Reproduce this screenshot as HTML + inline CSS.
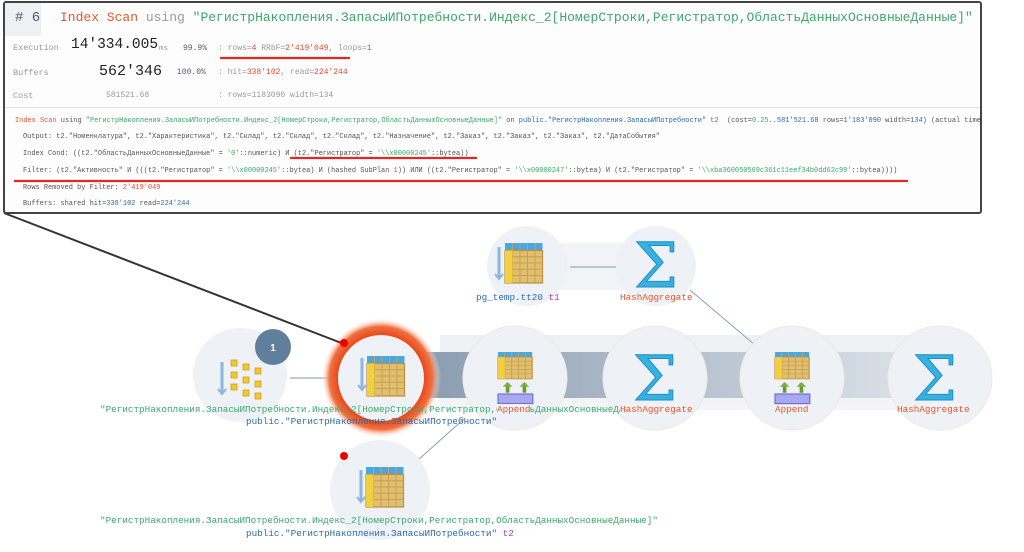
<!DOCTYPE html>
<html><head><meta charset="utf-8"><style>
body{margin:0;width:1024px;height:552px;background:#fff;position:relative;overflow:hidden;font-family:"Liberation Mono","DejaVu Sans Mono",monospace}
.a{position:absolute;white-space:nowrap}
#panel{position:absolute;left:3px;top:1px;width:975px;height:209px;border:2px solid #444;border-radius:3px;background:#fdfdfd;overflow:hidden}
.g{color:#3aa86a}.o{color:#e8552a}.gr{color:#999}.b{color:#2b6aa8}.p{color:#b03ab0}.r{color:#e84a2a}
.code{font-size:6.95px;color:#555}
.lbl{font-size:9.3px}
</style></head><body>
<svg width="1024" height="552" style="position:absolute;left:0;top:0">
<defs>
<linearGradient id="band" x1="0" y1="0" x2="0" y2="1"><stop offset="0" stop-color="#eef1f4"/><stop offset="1" stop-color="#f3f5f7"/></linearGradient>
<linearGradient id="inner" x1="0" y1="0" x2="1" y2="0"><stop offset="0" stop-color="#8a9cb0"/><stop offset="1" stop-color="#dfe5eb"/></linearGradient>
<radialGradient id="glow"><stop offset="0.72" stop-color="#e84a1a"/><stop offset="0.86" stop-color="#f07040"/><stop offset="1" stop-color="#fff" stop-opacity="0"/></radialGradient>
<g id="tbl">
<rect x="0" y="0" width="30" height="6" fill="#4aa8e0"/>
<rect x="0" y="6" width="30" height="26" fill="#e0c070" stroke="#c09040"/>
<path d="M6 0v32M12 0v32M18 0v32M24 0v32M0 11h30M0 16h30M0 21h30M0 26h30" stroke="#c8a050" stroke-width="0.8"/>
<rect x="0" y="6" width="6" height="26" fill="#f0d040"/>
</g>
<g id="arr"><path d="M0 0v30" stroke="#8ab8e0" stroke-width="3"/><path d="M-4 27l4 5l4-5" fill="none" stroke="#8ab8e0" stroke-width="2"/></g>
<g id="app"><use href="#tbl" transform="scale(0.95,0.7)"/><path d="M8 26v8M22 26v8" stroke="#6a9a30" stroke-width="3"/><path d="M4 29l4-4l4 4M18 29l4-4l4 4" fill="#7ab040"/><rect x="0" y="35" width="29" height="8" fill="#a8a8f0" stroke="#7070d0"/></g>
</defs>
<rect x="440" y="335" width="500" height="75" fill="url(#band)"/>
<rect x="420" y="352" width="520" height="46" fill="url(#inner)"/>
<rect x="530" y="243" width="126" height="47" fill="#f1f3f6"/>
<line x1="290" y1="378" x2="340" y2="378" stroke="#a8b8c8" stroke-width="1.5"/>
<line x1="570" y1="267" x2="620" y2="267" stroke="#a8b8c8" stroke-width="1.5"/>
<line x1="690" y1="290" x2="755" y2="345" stroke="#8aa0b8" stroke-width="1"/>
<line x1="418" y1="460" x2="465" y2="418" stroke="#8aa0b8" stroke-width="1"/>
<circle cx="240" cy="375" r="47" fill="#eef1f5"/>
<circle cx="381" cy="378" r="60" fill="url(#glow)"/>
<circle cx="381" cy="378" r="43" fill="#eef1f5"/>
<circle cx="515" cy="378" r="52" fill="#eef1f5" stroke="#f3e8e4"/>
<circle cx="655" cy="378" r="52" fill="#eef1f5" stroke="#f3e8e4"/>
<circle cx="792" cy="378" r="52" fill="#eef1f5" stroke="#f3e8e4"/>
<circle cx="940" cy="378" r="52" fill="#eef1f5" stroke="#f3e8e4"/>
<circle cx="527" cy="266" r="40" fill="#eef1f5"/>
<circle cx="656" cy="266" r="40" fill="#eef1f5"/>
<circle cx="380" cy="490" r="50" fill="#eef1f5"/>
<circle cx="273" cy="347" r="18" fill="#5f7f9c"/>
<text x="273" y="351" font-family="Liberation Sans" font-size="10" font-weight="bold" fill="#fff" text-anchor="middle">1</text>
<use href="#arr" x="222" y="362"/>
<g fill="#f0c830" stroke="#d0a020" stroke-width="0.8"><rect x="231" y="360" width="6" height="6"/><rect x="243" y="364" width="6" height="6"/><rect x="255" y="368" width="6" height="6"/><rect x="231" y="372" width="6" height="6"/><rect x="243" y="377" width="6" height="6"/><rect x="255" y="381" width="6" height="6"/><rect x="231" y="384" width="6" height="6"/><rect x="243" y="390" width="6" height="6"/><rect x="255" y="393" width="6" height="6"/></g>
<use href="#arr" x="362" y="358"/><use href="#tbl" transform="translate(367,356) scale(1.25)"/>
<use href="#arr" x="361" y="470"/><use href="#tbl" transform="translate(366,467) scale(1.25)"/>
<use href="#arr" x="499" y="247"/><use href="#tbl" transform="translate(505,243) scale(1.25)"/>
<use href="#app" transform="translate(498,352) scale(1.2)"/><use href="#app" transform="translate(775,352) scale(1.2)"/>
<g font-family="DejaVu Serif" font-size="62" fill="#3ab0e0" stroke="#1a90c8" stroke-width="1" text-anchor="middle"><text x="656" y="287">Σ</text><text x="655" y="400">Σ</text><text x="935" y="400">Σ</text></g>
<line x1="4" y1="213" x2="344" y2="344" stroke="#333" stroke-width="2"/>
<circle cx="344" cy="343" r="4" fill="#e00"/>
<circle cx="344" cy="456" r="4" fill="#e00"/>
</svg>
<div id="panel">
<div class="a" style="left:0;top:0;width:36px;height:33px;background:#eef0f2"></div>
<div class="a" style="left:10px;top:7px;font-size:14px;color:#557">#&nbsp;6</div>
<div class="a" style="left:55px;top:7px;font-size:13px"><span class="o">Index Scan</span> <span class="gr">using</span> <span class="g">"РегистрНакопления.ЗапасыИПотребности.Индекс_2[НомерСтроки,Регистратор,ОбластьДанныхОсновныеДанные]"</span></div>
<div class="a" style="left:8px;top:40px;font-size:8.5px;color:#999">Execution</div>
<div class="a" style="left:66px;top:34px;font-size:14.5px;color:#222">14′334.005</div>
<div class="a" style="left:154px;top:42px;font-size:7.5px;color:#999">ms</div>
<div class="a" style="left:178px;top:41px;font-size:8px;color:#557">99.9%</div>
<div class="a" style="left:213px;top:41px;font-size:8px;color:#999">: rows=<span class="r">4</span> RRbF=<span class="r">2′419′049</span>, loops=<span class="r">1</span></div>
<div class="a" style="left:8px;top:65px;font-size:8.5px;color:#999">Buffers</div>
<div class="a" style="left:94px;top:60px;font-size:15px;color:#222">562′346</div>
<div class="a" style="left:172px;top:65px;font-size:8px;color:#557">100.0%</div>
<div class="a" style="left:213px;top:65px;font-size:8px;color:#999">: hit=<span class="r">338′102</span>, read=<span class="r">224′244</span></div>
<div class="a" style="left:8px;top:88px;font-size:8.5px;color:#999">Cost</div>
<div class="a" style="left:101px;top:88px;font-size:8px;color:#999">581521.68</div>
<div class="a" style="left:213px;top:88px;font-size:8px;color:#999">: rows=1183090 width=134</div>
<div class="a" style="left:0;top:104px;width:975px;height:1px;background:#e4e6e8"></div>
<div class="a code" style="left:10px;top:114px"><span class="o">Index Scan</span> using <span class="g">"РегистрНакопления.ЗапасыИПотребности.Индекс_2[НомерСтроки,Регистратор,ОбластьДанныхОсновныеДанные]"</span> on <span class="b">public."РегистрНакопления.ЗапасыИПотребности"</span> <span class="p">t2</span>&nbsp; (cost=<span class="g">0.25</span>..<span class="b">581′521.68</span> rows=<span class="b">1′183′090</span> width=<span class="b">134</span>) (actual time</div>
<div class="a code" style="left:18px;top:130px">Output: t2."Номенклатура", t2."Характеристика", t2."Склад", t2."Склад", t2."Склад", t2."Назначение", t2."Заказ", t2."Заказ", t2."Заказ", t2."ДатаСобытия"</div>
<div class="a code" style="left:18px;top:147px">Index Cond: ((t2."ОбластьДанныхОсновныеДанные" = <span class="g">'0'</span>::numeric) И (t2."Регистратор" = <span class="g">'\\x00000245'</span>::bytea))</div>
<div class="a code" style="left:18px;top:164px">Filter: (t2."Активность" И (((t2."Регистратор" = <span class="g">'\\x00000245'</span>::bytea) И (hashed SubPlan <span class="r">1</span>)) ИЛИ ((t2."Регистратор" = <span class="g">'\\x00000247'</span>::bytea) И (t2."Регистратор" = <span class="g">'\\xba360050569c361c11eef34b0dd62c99'</span>::bytea))))</div>
<div class="a code" style="left:18px;top:181px">Rows Removed by Filter: <span class="r">2′419′049</span></div>
<div class="a code" style="left:18px;top:197px">Buffers: shared hit=<span class="b">338′102</span> read=<span class="b">224′244</span></div>
</div>
<svg width="1024" height="552" style="position:absolute;left:0;top:0">
<line x1="220" y1="58" x2="350" y2="58" stroke="#e02a20" stroke-width="2.2"/>
<line x1="290" y1="158" x2="477" y2="158" stroke="#e02a20" stroke-width="2.2"/>
<line x1="14" y1="181" x2="908" y2="181" stroke="#e02a20" stroke-width="2.2"/>
</svg>
<div class="a lbl g" style="left:100px;top:404px">"РегистрНакопления.ЗапасыИПотребности.Индекс_2[НомерСтроки,Регистратор,ОбластьДанныхОсновныеДанные]"</div>
<div class="a lbl b" style="left:246px;top:416px">public."РегистрНакопления.ЗапасыИПотребности"</div>
<div class="a lbl g" style="left:100px;top:515px">"РегистрНакопления.ЗапасыИПотребности.Индекс_2[НомерСтроки,Регистратор,ОбластьДанныхОсновныеДанные]"</div>
<div class="a lbl b" style="left:246px;top:528px">public."РегистрНакопления.ЗапасыИПотребности" <span class="p">t2</span></div>
<div class="a lbl b" style="left:476px;top:292px">pg_temp.tt20 <span class="p">t1</span></div>
<div class="a lbl o" style="left:620px;top:292px">HashAggregate</div>
<div class="a lbl o" style="left:497px;top:404px;background:#eef1f5">Append</div>
<div class="a lbl o" style="left:620px;top:404px;background:#eef1f5">HashAggregate</div>
<div class="a lbl o" style="left:775px;top:404px">Append</div>
<div class="a lbl o" style="left:897px;top:404px">HashAggregate</div>
</body></html>
